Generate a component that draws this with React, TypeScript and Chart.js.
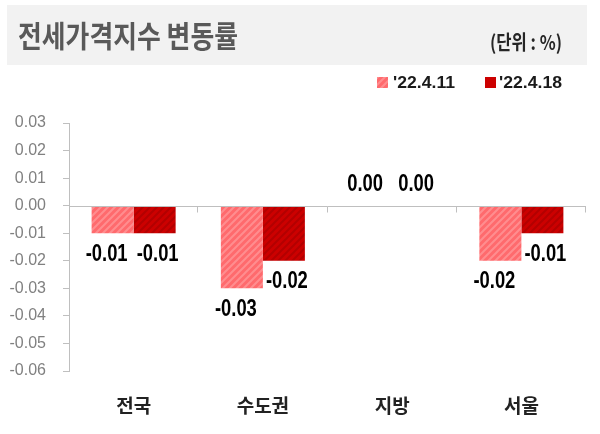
import React, { useEffect, useRef } from 'react';
import { Chart, registerables } from 'chart.js';

Chart.register(...registerables);

const TITLE = '전세가격지수 변동률';
const UNIT = '(단위 : %)';
const categories = ['전국', '수도권', '지방', '서울'];
const seriesLabels = ["'22.4.11", "'22.4.18"];
const values0411 = [-0.01, -0.03, 0.0, -0.02];
const values0418 = [-0.01, -0.02, 0.0, -0.01];
const yMin = -0.06;
const yMax = 0.03;
const yStep = 0.01;

const LIGHT_BASE = '#ff6a6d';
const LIGHT_STRIPE = '#ff8d8f';
const DARK_BASE = '#cc0000';
const DARK_STRIPE = '#b30000';
const LABEL_DX = [-6, 3];
const LABEL_SCALE_X = 0.8;

function fmt(v: number) {
  if (Math.abs(v) < 1e-9) return '0.00';
  return v.toFixed(2);
}

function makePattern(base: string, stripe: string, size: number, lw: number) {
  const c = document.createElement('canvas');
  c.width = size;
  c.height = size;
  const g = c.getContext('2d')!;
  g.fillStyle = base;
  g.fillRect(0, 0, size, size);
  g.strokeStyle = stripe;
  g.lineWidth = lw;
  g.beginPath();
  g.moveTo(-size, size);
  g.lineTo(size, -size);
  g.moveTo(0, size);
  g.lineTo(size, 0);
  g.moveTo(0, 2 * size);
  g.lineTo(2 * size, 0);
  g.stroke();
  return g.createPattern(c, 'repeat') as CanvasPattern;
}

function drawFitted(ctx: CanvasRenderingContext2D, text: string, x: number, y: number, targetW: number) {
  const w = ctx.measureText(text).width;
  const s = targetW / w;
  ctx.save();
  ctx.translate(x, y);
  ctx.scale(s, 1);
  ctx.textAlign = 'left';
  ctx.textBaseline = 'middle';
  ctx.fillText(text, 0, 0);
  ctx.restore();
}

export default function App() {
  const ref = useRef<HTMLCanvasElement>(null);

  useEffect(() => {
    const canvas = ref.current!;
    const lightPat = makePattern(LIGHT_BASE, LIGHT_STRIPE, 7, 2);
    const darkPat = makePattern(DARK_BASE, DARK_STRIPE, 7, 2);
    const fills = [lightPat, darkPat];

    const headerPlugin = {
      id: 'header',
      beforeDraw(chart: any) {
        const ctx: CanvasRenderingContext2D = chart.ctx;
        ctx.save();
        ctx.fillStyle = '#ffffff';
        ctx.fillRect(0, 0, chart.width, chart.height);
        ctx.fillStyle = '#f2f2f2';
        ctx.fillRect(7, 5, 580, 60);
        ctx.fillStyle = '#595959';
        ctx.font = "bold 30px 'Noto Sans CJK KR', sans-serif";
        drawFitted(ctx, TITLE, 18, 36, 220);
        ctx.fillStyle = '#262626';
        ctx.font = "bold 20px 'Noto Sans CJK KR', sans-serif";
        drawFitted(ctx, UNIT, 490, 42, 72);
        // legend
        ctx.fillStyle = fills[0];
        ctx.fillRect(377, 77, 11, 11);
        ctx.fillStyle = DARK_BASE;
        ctx.fillRect(485, 77, 11, 11);
        ctx.fillStyle = '#1a1a1a';
        ctx.font = "bold 17px 'Liberation Sans', Arial, sans-serif";
        drawFitted(ctx, seriesLabels[0], 393, 83, 62);
        drawFitted(ctx, seriesLabels[1], 499, 83, 63);
        ctx.restore();
      },
    };

    const axisPlugin = {
      id: 'zeroAxis',
      afterDatasetsDraw(chart: any) {
        const ctx: CanvasRenderingContext2D = chart.ctx;
        const { chartArea } = chart;
        const x = chart.scales.x;
        const y = chart.scales.y;
        const y0 = Math.round(y.getPixelForValue(0)) + 0.5;
        ctx.save();
        ctx.strokeStyle = '#bfbfbf';
        ctx.lineWidth = 1;
        ctx.beginPath();
        ctx.moveTo(chartArea.left, y0);
        ctx.lineTo(chartArea.right, y0);
        const n = categories.length;
        for (let i = 1; i <= n; i++) {
          const bx = i < n ? (x.getPixelForValue(i - 1) + x.getPixelForValue(i)) / 2 : chartArea.right;
          const px = Math.round(bx) - 0.5;
          ctx.moveTo(px, y0);
          ctx.lineTo(px, y0 + 6);
        }
        ctx.stroke();

        // value labels
        ctx.fillStyle = '#000000';
        ctx.font = "bold 24px 'Liberation Sans', Arial, sans-serif";
        ctx.textAlign = 'center';
        ctx.textBaseline = 'middle';
        chart.data.datasets.forEach((ds: any, di: number) => {
          const meta = chart.getDatasetMeta(di);
          meta.data.forEach((el: any, i: number) => {
            const v = ds.data[i];
            const ty = v < 0 ? el.y + 21 : y.getPixelForValue(0) - 21;
            ctx.save();
            ctx.translate(el.x + LABEL_DX[di], ty);
            ctx.scale(LABEL_SCALE_X * 23 / 24, 1);
            ctx.fillText(fmt(v), 0, 0);
            ctx.restore();
          });
        });
        ctx.restore();
      },
    };

    const chart = new Chart(canvas, {
      type: 'bar',
      data: {
        labels: categories,
        datasets: [
          { label: seriesLabels[0], data: values0411, backgroundColor: lightPat, borderWidth: 0 },
          { label: seriesLabels[1], data: values0418, backgroundColor: darkPat, borderWidth: 0 },
        ],
      },
      options: {
        responsive: false,
        animation: false,
        devicePixelRatio: 1,
        layout: { padding: { top: 123, right: 14, bottom: 0, left: 0 } },
        datasets: { bar: { categoryPercentage: 0.65, barPercentage: 1.0 } },
        plugins: {
          legend: { display: false },
          tooltip: { enabled: false },
          title: { display: false },
        },
        scales: {
          x: {
            offset: true,
            grid: { display: false, drawTicks: false },
            border: { display: false },
            ticks: {
              color: '#222222',
              font: { family: "'Noto Sans CJK KR', sans-serif", size: 19, weight: 'bold' },
              padding: 23,
            },
            afterFit: (s: any) => {
              s.height = 63;
            },
          },
          y: {
            min: yMin,
            max: yMax,
            ticks: {
              stepSize: yStep,
              color: '#808080',
              font: { family: "'Liberation Sans', Arial, sans-serif", size: 16 },
              padding: 17,
              callback: (v: any) => fmt(Number(v)),
            },
            grid: { drawOnChartArea: false, color: '#bfbfbf', tickLength: 6, lineWidth: 1 },
            border: { color: '#bfbfbf', width: 1 },
            afterFit: (s: any) => {
              s.width = 69;
            },
          },
        },
      },
      plugins: [headerPlugin, axisPlugin],
    });

    return () => chart.destroy();
  }, []);

  return (
    <div style={{ position: 'fixed', left: 0, top: 0, width: 600, height: 434 }}>
      <canvas ref={ref} width={600} height={434} style={{ display: 'block' }} />
    </div>
  );
}
